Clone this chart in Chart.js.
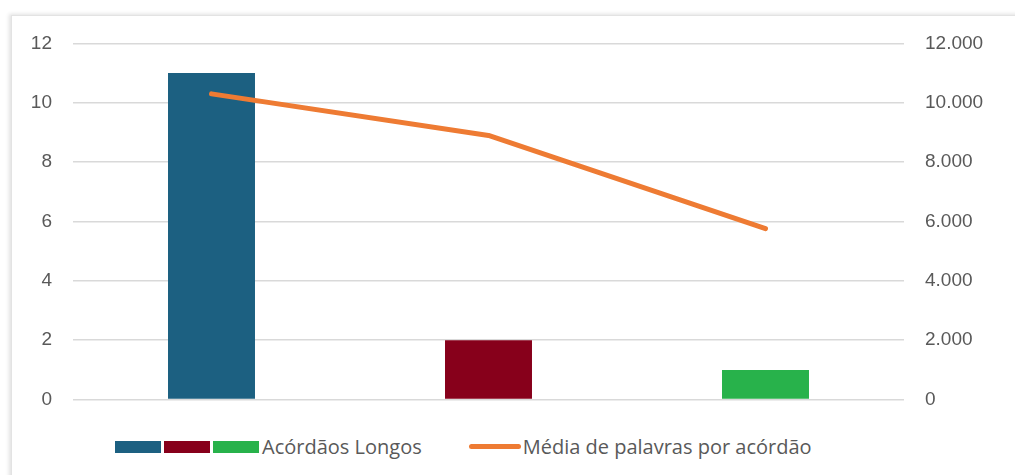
<!DOCTYPE html>
<html>
<head>
<meta charset="utf-8">
<script src="https://cdn.jsdelivr.net/npm/chart.js@4"></script>
<style>
    body { margin: 0; background: #fff; width: 1015px; height: 475px; overflow: hidden; position: relative; }
    .card {
        position: absolute; left: 11px; top: 15px; width: 1010px; height: 470px;
        background: #fff; border: 1px solid #e3e3e3;
        box-shadow: -2px -1px 4px rgba(0,0,0,0.12);
        overflow: hidden;
    }
    #chart { position: absolute; left: 0; top: -5px; }
    .legend {
        position: absolute; top: 417px; left: 103px; display: flex; align-items: center;
        font-family: "Open Sans", sans-serif; font-size: 20px; color: #595959;
    }
    .legend .box { width: 46px; height: 12px; margin-right: 3px; display: inline-block; }
    .legend .line { width: 52px; height: 5px; border-radius: 3px; display: inline-block; margin-left: 47px; margin-right: 2px; }
</style>
</head>
<body>
<div class="card">
    <canvas id="chart" width="1004" height="421"></canvas>
    <div class="legend" id="legend"></div>
</div>
<script>
// data
const categories = ['A', 'B', 'C'];
const longosValues = [11, 2, 1];
const mediaValues = [10300, 8900, 5760];
const barColors = ['#1c6081', '#87001b', '#28b24b'];
const lineColor = '#ee7b33';
const barLabel = 'Acórdãos Longos';
const lineLabel = 'Média de palavras por acórdão';

const textColor = '#595959';
const gridColor = '#d9d9d9';
const tickFont = { family: '"Liberation Sans", Arial, sans-serif', size: 19 };

// thousands with a dot, as in the reference
function fmtThousands(v) {
    return String(v).replace(/\B(?=(\d{3})+(?!\d))/g, '.');
}

const ctx = document.getElementById('chart').getContext('2d');
new Chart(ctx, {
    type: 'bar',
    data: {
        labels: categories,
        datasets: [
            {
                type: 'line',
                label: lineLabel,
                data: mediaValues,
                borderColor: lineColor,
                borderWidth: 5,
                borderCapStyle: 'round',
                borderJoinStyle: 'round',
                pointRadius: 0,
                tension: 0,
                yAxisID: 'y1',
                order: 0
            },
            {
                label: barLabel,
                data: longosValues,
                backgroundColor: barColors,
                borderWidth: 0,
                barPercentage: 0.314,
                categoryPercentage: 1,
                yAxisID: 'y',
                order: 1
            }
        ]
    },
    options: {
        responsive: false,
        animation: false,
        layout: { padding: { top: 22, bottom: 6, left: 0, right: 0 } },
        plugins: { legend: { display: false }, tooltip: { enabled: false } },
        scales: {
            x: { display: false },
            y: {
                position: 'left',
                min: 0, max: 12,
                ticks: { stepSize: 2, color: textColor, font: tickFont, padding: 21 },
                grid: { color: gridColor, lineWidth: 1.5, drawTicks: false },
                border: { display: false },
                afterFit: function(scale) { scale.width = 61; }
            },
            y1: {
                position: 'right',
                min: 0, max: 12000,
                ticks: {
                    stepSize: 2000, color: textColor, font: tickFont, padding: 21,
                    callback: v => fmtThousands(v)
                },
                grid: { drawOnChartArea: false, drawTicks: false },
                border: { display: false },
                afterFit: function(scale) { scale.width = 112; }
            }
        }
    }
});

// custom legend: three colour boxes for the bars, then the line
const legend = document.getElementById('legend');
barColors.forEach(c => {
    const b = document.createElement('span');
    b.className = 'box';
    b.style.background = c;
    legend.appendChild(b);
});
const t1 = document.createElement('span');
t1.textContent = barLabel;
legend.appendChild(t1);
const ln = document.createElement('span');
ln.className = 'line';
ln.style.background = lineColor;
legend.appendChild(ln);
const t2 = document.createElement('span');
t2.textContent = lineLabel;
legend.appendChild(t2);
</script>
</body>
</html>
